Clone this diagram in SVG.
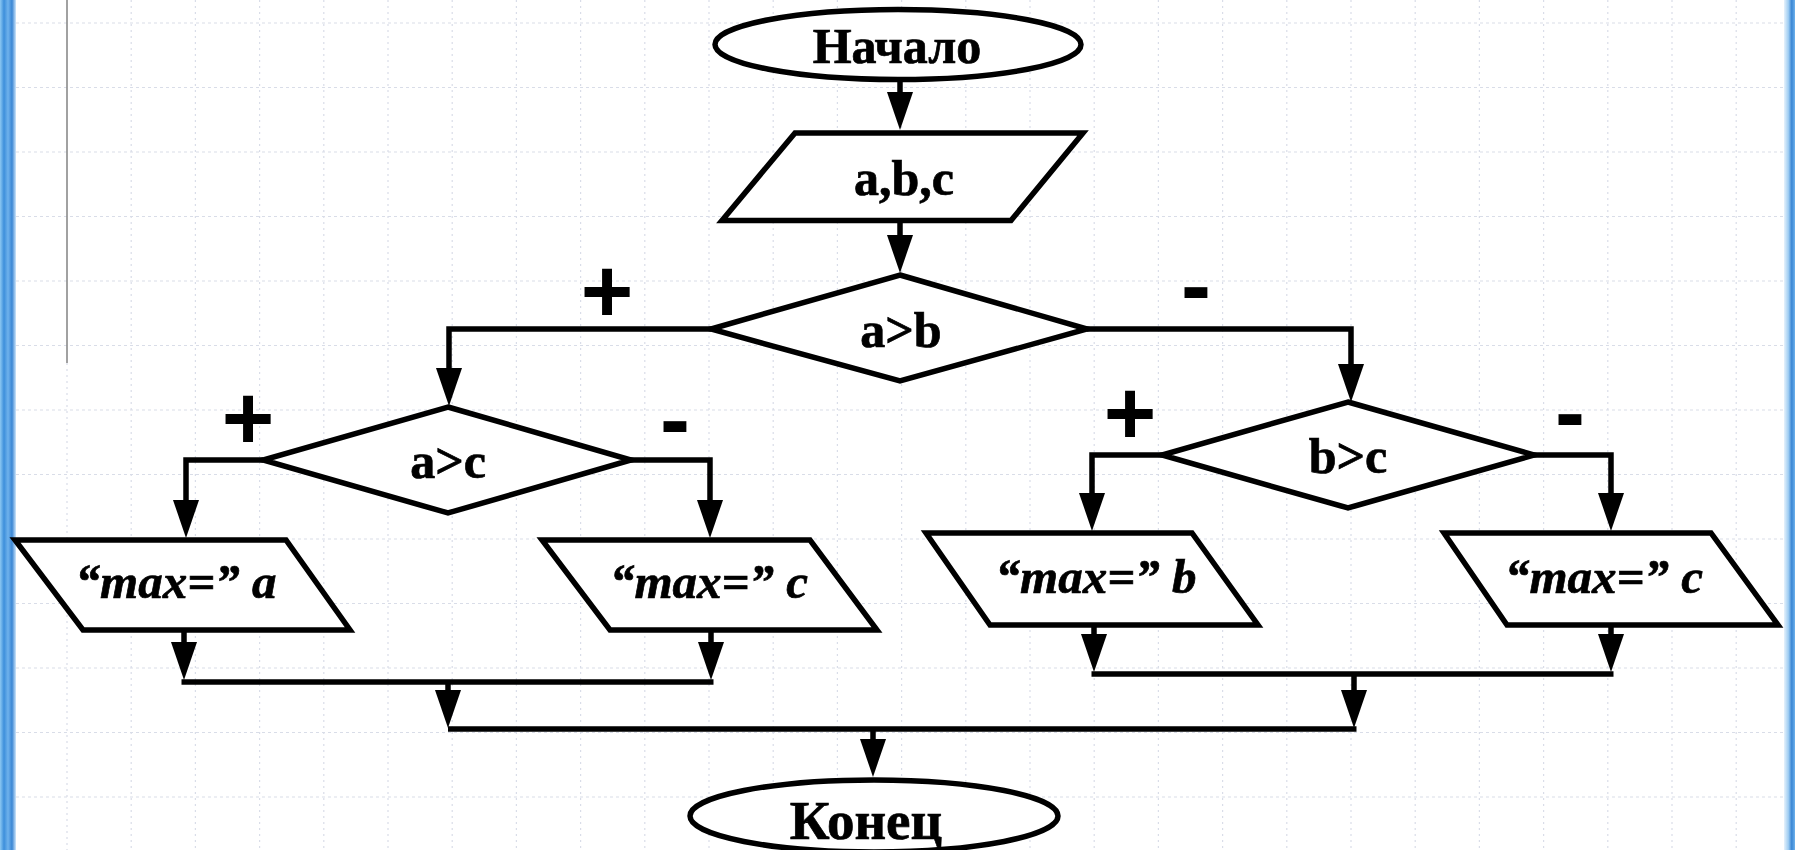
<svg xmlns="http://www.w3.org/2000/svg" width="1795" height="850" viewBox="0 0 1795 850">
<style>
.shape{fill:#fff;stroke:#000;stroke-width:5.5;stroke-linejoin:miter}
.conn{fill:none;stroke:#000;stroke-width:5.5}
.lbl{font-family:"Liberation Serif","Times New Roman",serif;font-weight:bold;font-size:50px;text-anchor:middle;fill:#000;stroke:#000;stroke-width:0.7}
.it{font-style:italic;font-size:49px}
.sign{font-family:"Liberation Sans",Arial,sans-serif;font-weight:bold;font-size:90px;text-anchor:middle;fill:#000}
.gv{stroke:#d9dde8;stroke-width:1.2;stroke-dasharray:2 4}
.gh{stroke:#d9dde8;stroke-width:1.2;stroke-dasharray:3 3}
</style>
<defs>
<path id="ah" d="M0,0 L-13,-38 L13,-38 Z" fill="#000"/>
<linearGradient id="bl" x1="0" y1="0" x2="1" y2="0">
<stop offset="0" stop-color="#8cc8f2"/>
<stop offset="0.25" stop-color="#3d8fdb"/>
<stop offset="0.5" stop-color="#6fb2ec"/>
<stop offset="0.75" stop-color="#3a86d4"/>
<stop offset="1" stop-color="#cfe6fa"/>
</linearGradient>
<linearGradient id="br" x1="0" y1="0" x2="1" y2="0">
<stop offset="0" stop-color="#e6f2fc"/>
<stop offset="0.4" stop-color="#9fcdf2"/>
<stop offset="0.7" stop-color="#3a86d4"/>
<stop offset="1" stop-color="#6fb2ec"/>
</linearGradient>
</defs>
<rect width="1795" height="850" fill="#fff"/>
<g id="grid">
<path class="gv" d="M131.2,0V850M195.4,0V850M259.6,0V850M323.8,0V850M388,0V850M452.2,0V850M516.4,0V850M580.6,0V850M644.8,0V850M709,0V850M773.2,0V850M837.4,0V850M901.6,0V850M965.8,0V850M1030,0V850M1094.2,0V850M1158.4,0V850M1222.6,0V850M1286.8,0V850M1351,0V850M1415.2,0V850M1479.4,0V850M1543.6,0V850M1607.8,0V850M1672,0V850M1736.2,0V850M67,363V850"/>
<path class="gh" d="M16,23H1785M16,87.5H1785M16,152H1785M16,216.5H1785M16,281H1785M16,345.5H1785M16,410H1785M16,474.5H1785M16,539H1785M16,603.5H1785M16,668H1785M16,732.5H1785M16,797H1785"/>
<line x1="67" y1="0" x2="67" y2="363" stroke="#8a8a8a" stroke-width="1.6"/>
<rect x="0" y="0" width="16" height="850" fill="url(#bl)"/>
<rect x="1784" y="0" width="11" height="850" fill="url(#br)"/>
</g>
<g id="connectors">
<path class="conn" d="M900,80V93"/>
<use href="#ah" x="900" y="130"/>
<path class="conn" d="M900,220V236"/>
<use href="#ah" x="900" y="273"/>
<path class="conn" d="M711,329H449V369"/>
<use href="#ah" x="449" y="406"/>
<path class="conn" d="M1087,329H1351V365"/>
<use href="#ah" x="1351" y="402"/>
<path class="conn" d="M263,460H186V501"/>
<use href="#ah" x="186" y="538"/>
<path class="conn" d="M631,460H710V501"/>
<use href="#ah" x="710" y="538"/>
<path class="conn" d="M1162,455H1092V494"/>
<use href="#ah" x="1092" y="531"/>
<path class="conn" d="M1534,455H1611V494"/>
<use href="#ah" x="1611" y="531"/>
<path class="conn" d="M184,630V643"/>
<use href="#ah" x="184" y="680"/>
<path class="conn" d="M711,630V643"/>
<use href="#ah" x="711" y="680"/>
<path class="conn" d="M181.5,682H713.5"/>
<path class="conn" d="M1094,625V635"/>
<use href="#ah" x="1094" y="672"/>
<path class="conn" d="M1611,625V635"/>
<use href="#ah" x="1611" y="672"/>
<path class="conn" d="M1091.5,674H1613.5"/>
<path class="conn" d="M448,682V690"/>
<use href="#ah" x="448" y="728"/>
<path class="conn" d="M1354,674V690"/>
<use href="#ah" x="1354" y="728"/>
<path class="conn" d="M448,729H1356.5"/>
<path class="conn" d="M873,729V740"/>
<use href="#ah" x="873" y="777"/>
</g>
<g id="start">
<ellipse class="shape" cx="898" cy="44.5" rx="183" ry="35"/>
<text class="lbl" x="897" y="63">Начало</text>
</g>
<g id="input">
<path class="shape" d="M795,133H1083L1011,220.5H722Z"/>
<text class="lbl" x="904" y="195">a,b,c</text>
</g>
<g id="cond-ab">
<path class="shape" d="M900,275L1087,329L900,381L711,329Z"/>
<text class="lbl" x="901" y="347">a&gt;b</text>
<text class="sign" x="607" y="322">+</text>
<text class="sign" x="1196" y="316">-</text>
</g>
<g id="cond-ac">
<path class="shape" d="M448,407L631,460L448,513L263,460Z"/>
<text class="lbl" x="448" y="478">a&gt;c</text>
<text class="sign" x="248" y="449">+</text>
<text class="sign" x="675" y="450">-</text>
</g>
<g id="cond-bc">
<path class="shape" d="M1348,402L1534,455L1348,508L1162,455Z"/>
<text class="lbl" x="1348" y="473">b&gt;c</text>
<text class="sign" x="1130" y="444">+</text>
<text class="sign" x="1570" y="443">-</text>
</g>
<g id="out-a">
<path class="shape" d="M15,540H286L350,630H83Z"/>
<text class="lbl it" x="176" y="598">“max=” a</text>
</g>
<g id="out-c1">
<path class="shape" d="M542,540H810L877,630H610Z"/>
<text class="lbl it" x="709" y="598">“max=” c</text>
</g>
<g id="out-b">
<path class="shape" d="M926,533H1192L1258,625H990Z"/>
<text class="lbl it" x="1096" y="593">“max=” b</text>
</g>
<g id="out-c2">
<path class="shape" d="M1444,533H1711L1778,625H1507Z"/>
<text class="lbl it" x="1604" y="593">“max=” c</text>
</g>
<g id="end">
<ellipse class="shape" cx="874" cy="816" rx="184" ry="36"/>
<text class="lbl" x="866" y="839" style="font-size:55px">Конец</text>
</g>
</svg>
